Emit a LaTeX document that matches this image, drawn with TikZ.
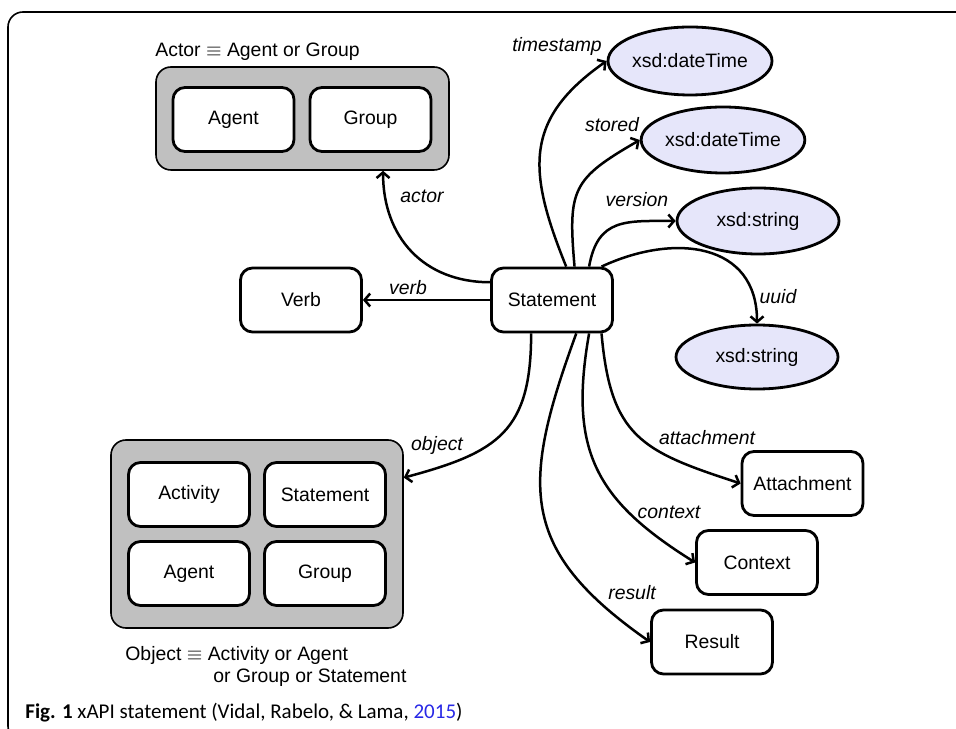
\documentclass[tikz,border=0pt]{standalone}
\usepackage{fontspec}
\setmainfont{Liberation Sans}
\newfontfamily\captionfont{Carlito}
\usepackage{xcolor}
\definecolor{groupgray}{RGB}{192,192,192}
\definecolor{literalcolor}{RGB}{230,230,250}
\definecolor{citeblue}{RGB}{40,40,230}
\usetikzlibrary{arrows.meta}
\usetikzlibrary{shapes.geometric}
\usetikzlibrary{positioning}

\begin{document}
\begin{tikzpicture}[x=0.5pt, y=0.5pt,
% define styles here
classbox/.style={rectangle, draw, line width=1.4pt, rounded corners=6pt, fill=white, minimum width=60.5pt, minimum height=32pt, inner sep=0pt, font=\fontsize{9.7}{11}\selectfont},
groupbox/.style={rectangle, draw, line width=0.8pt, rounded corners=7.5pt, fill=groupgray, inner sep=0pt},
literal/.style={ellipse, draw, line width=1.4pt, fill=literalcolor, minimum width=81pt, minimum height=33pt, inner sep=0pt, font=\fontsize{9.7}{11}\selectfont},
prop/.style={inner sep=0pt, font=\fontsize{9.7}{11}\selectfont\itshape},
note/.style={inner sep=0pt, font=\fontsize{9.7}{11}\selectfont},
link/.style={-{Straight Barb[length=2.8pt,width=6.5pt]}, line width=1.25pt}
]
\useasboundingbox (0,0) rectangle (956,728);
\clip (0,0) rectangle (956,728);
\draw[line width=0.8pt, rounded corners=7.5pt] (8,716) rectangle (980,-13);

% actor
\node[groupbox, minimum width=146.5pt, minimum height=51.5pt] (actorbox) at (302.5,609.5) {};
\node[classbox] (actoragent) at (233.5,608.5) {Agent};
\node[classbox] (actorgroup) at (370.5,608.5) {Group};
\node[note, anchor=base west] (actornote) at (155,671) {Actor $\equiv$ Agent or Group};

% object
\node[groupbox, minimum width=146pt, minimum height=94pt] (objbox) at (257,194) {};
\node[classbox] (objactivity) at (189,233.5) {Activity};
\node[classbox] (objstatement) at (325,233.5) {Statement};
\node[classbox] (objagent) at (189,154.5) {Agent};
\node[classbox] (objgroup) at (325,154.5) {Group};
\node[note, anchor=base west] (objnote) at (125,68) {Object $\equiv$ Activity or Agent};
\node[note, anchor=base west] (objnotetwo) at (213,46) {or Group or Statement};

% statement and its values
\node[classbox] (stmt) at (552,428) {Statement};
\node[classbox] (verb) at (301,428) {Verb};
\node[literal, minimum width=82pt, minimum height=34pt] (timestamp) at (690,667) {xsd:dateTime};
\node[literal] (stored) at (723,588) {xsd:dateTime};
\node[literal] (version) at (758,507) {xsd:string};
\node[literal, minimum height=32pt] (uuid) at (757,371) {xsd:string};
\node[classbox] (attachment) at (802.5,244.5) {Attachment};
\node[classbox] (context) at (757,165.5) {Context};
\node[classbox] (result) at (712,86) {Result};

% properties
\draw[link] (stmt.164.3) to[out=180, in=-90, looseness=1.1] (actorbox.-33.3);
\draw[link] (stmt.west) -- (verb.east);
\draw[link] (stmt.67.9) to[out=112, in=-145, looseness=1.25] (timestamp.west);
\draw[link] (stmt.56.7) to[out=95, in=-150, looseness=1.4] (stored.west);
\draw[link] (stmt.42.4) to[out=80, in=180, looseness=1.3] (version.west);
\draw[link] (stmt.34.8) to[out=25, in=90, looseness=1.25] (uuid.north);
\draw[link] (stmt.-122) to[out=-90, in=15, looseness=1.3] (objbox.21.7);
\draw[link] (stmt.-34.8) to[out=-85, in=162, looseness=1.3] (attachment.west);
\draw[link] (stmt.-42.4) to[out=-100, in=148, looseness=1.2] (context.west);
\draw[link] (stmt.-54.3) to[out=-110, in=145, looseness=1.3] (result.west);

\node[prop] (lblactor) at (422,532) {actor};
\node[prop] (lblverb) at (408,440) {verb};
\node[prop] (lbltimestamp) at (557,682) {timestamp};
\node[prop] (lblstored) at (612,603) {stored};
\node[prop] (lblversion) at (637,528) {version};
\node[prop] (lbluuid) at (778,431) {uuid};
\node[prop] (lblobject) at (437,283) {object};
\node[prop] (lblattachment) at (707,290) {attachment};
\node[prop] (lblcontext) at (669,216) {context};
\node[prop] (lblresult) at (632,135) {result};

% caption
\node[anchor=base west, inner sep=0pt, font=\captionfont\fontsize{10.5}{12}\selectfont] (caption) at (25,10) {\textbf{Fig. 1} xAPI statement (Vidal, Rabelo, \& Lama, \textcolor{citeblue}{2015})};
\end{tikzpicture}
\end{document}
